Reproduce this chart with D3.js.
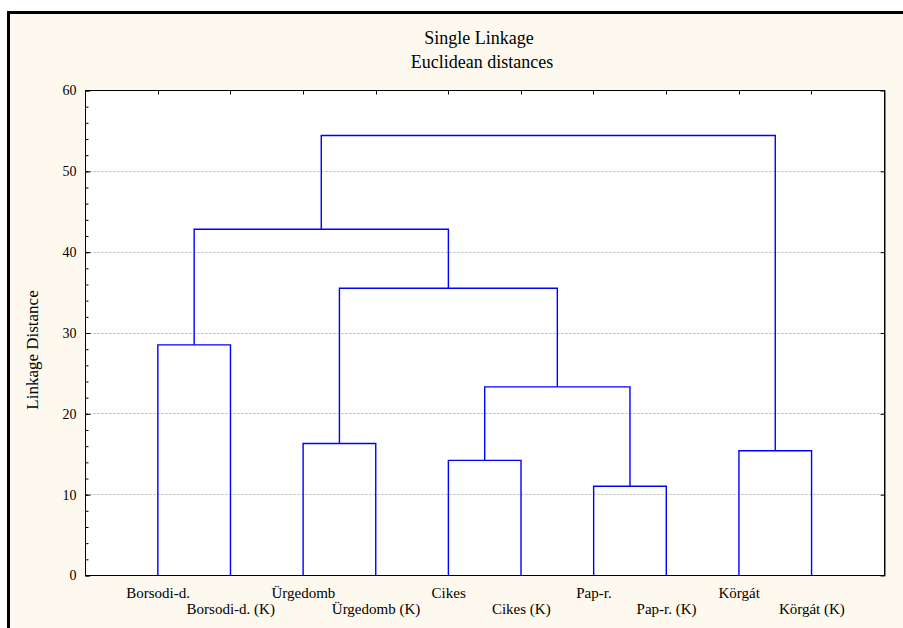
<!DOCTYPE html>
<html>
<head>
<meta charset="utf-8">
<script src="https://cdn.jsdelivr.net/npm/d3@7"></script>
<style>
body { margin: 0; background: #fff; }
text { font-family: "Liberation Serif", "Times New Roman", serif; fill: #000; }
</style>
</head>
<body>
<div class="chart"></div>
<script>
// leaves, left to right
var leaves = ["Borsodi-d.", "Borsodi-d. (K)", "Ürgedomb", "Ürgedomb (K)", "Cikes",
    "Cikes (K)", "Pap-r.", "Pap-r. (K)", "Körgát", "Körgát (K)"];

// merges: index < 10 is a leaf, index >= 10 is an earlier merge
var mergeLeft = [0, 2, 4, 6, 12, 11, 10, 8, 16];
var mergeRight = [1, 3, 5, 7, 13, 14, 15, 9, 17];
var mergeDist = [28.5, 16.3, 14.2, 11.0, 23.3, 35.5, 42.8, 15.4, 54.4];

var yTicks = [0, 10, 20, 30, 40, 50, 60];
var yMinor = d3.range(0, 61, 2);

var margin = { top: 90, right: 18, bottom: 53, left: 86 },
    width = 903 - margin.left - margin.right,
    height = 628 - margin.top - margin.bottom;

var svg = d3.select(".chart")
    .append("svg")
    .attr("width", 903)
    .attr("height", 628);

// outer frame
svg.append("rect")
    .attr("x", 8.5).attr("y", 12.5)
    .attr("width", 1000).attr("height", 1000)
    .style("fill", "#fef9ee")
    .style("stroke", "#000")
    .style("stroke-width", 3);

svg.append("text")
    .attr("x", 479).attr("y", 44)
    .attr("text-anchor", "middle")
    .style("font-size", "18px")
    .text("Single Linkage");

svg.append("text")
    .attr("x", 482).attr("y", 68)
    .attr("text-anchor", "middle")
    .style("font-size", "18px")
    .text("Euclidean distances");

var g = svg.append("g")
    .attr("transform", "translate(" + (margin.left - 0.5) + "," + (margin.top + 0.5) + ")");

var x = d3.scalePoint()
    .domain(leaves)
    .range([0, width])
    .padding(1);

var y = d3.scaleLinear()
    .domain([0, 60])
    .range([height, 0]);

g.append("rect")
    .attr("width", width).attr("height", height)
    .style("fill", "#fff");

// gridlines
g.selectAll(".grid")
    .data(yTicks.slice(1, -1))
    .enter().append("line")
    .attr("class", "grid")
    .attr("x1", 0).attr("x2", width)
    .attr("y1", function (d) { return Math.round(y(d)); })
    .attr("y2", function (d) { return Math.round(y(d)); })
    .style("stroke", "#b4b4b4")
    .style("stroke-dasharray", "2,2");

// left axis with minor ticks, drawn inward
var leftAxis = g.append("g");
leftAxis.append("g").call(d3.axisRight(y).tickValues(yMinor).tickSize(3).tickFormat(""));
leftAxis.append("g").call(d3.axisRight(y).tickValues(yTicks).tickSize(5).tickFormat(""));
leftAxis.selectAll(".domain").remove();

g.selectAll(".ylab")
    .data(yTicks)
    .enter().append("text")
    .attr("class", "ylab")
    .attr("x", -9)
    .attr("y", function (d) { return y(d); })
    .attr("dy", "0.35em")
    .attr("text-anchor", "end")
    .style("font-size", "14px")
    .text(function (d) { return d; });

// right axis ticks
var rightAxis = g.append("g").attr("transform", "translate(" + width + ",0)");
rightAxis.call(d3.axisLeft(y).tickValues(yTicks).tickSize(4).tickFormat(""));
rightAxis.selectAll(".domain").remove();

// top axis ticks
var topAxis = g.append("g");
topAxis.call(d3.axisBottom(x).tickSize(4).tickFormat(""));
topAxis.selectAll(".domain").remove();
topAxis.selectAll(".tick").attr("transform", function (d) {
    return "translate(" + Math.round(x(d)) + ",0)";
});

// plot border
g.append("rect")
    .attr("width", width).attr("height", height)
    .style("fill", "none")
    .style("stroke", "#000");
g.append("line")
    .attr("x1", width + 1).attr("x2", width + 1)
    .attr("y1", 0).attr("y2", height + 1)
    .style("stroke", "#888");

// x labels, alternating rows
g.selectAll(".xlab")
    .data(leaves)
    .enter().append("text")
    .attr("class", "xlab")
    .attr("x", function (d) { return x(d); })
    .attr("y", function (d, i) { return height + (i % 2 === 0 ? 22 : 38); })
    .attr("text-anchor", "middle")
    .style("font-size", "15px")
    .text(function (d) { return d; });

svg.append("text")
    .attr("transform", "translate(38,350) rotate(-90)")
    .attr("text-anchor", "middle")
    .style("font-size", "17px")
    .text("Linkage Distance");

// dendrogram
var n = leaves.length;
function nodeX(i) {
    if (i < n) return x(leaves[i]);
    return (nodeX(mergeLeft[i - n]) + nodeX(mergeRight[i - n])) / 2;
}
function nodeH(i) {
    return i < n ? 0 : mergeDist[i - n];
}

var links = g.append("g").attr("transform", "translate(-0.3,-0.3)");
links.selectAll(".link")
    .data(mergeDist)
    .enter().append("path")
    .attr("class", "link")
    .attr("d", function (d, i) {
        var a = mergeLeft[i], b = mergeRight[i];
        return "M" + nodeX(a) + "," + y(nodeH(a)) +
            "V" + y(d) + "H" + nodeX(b) + "V" + y(nodeH(b));
    })
    .style("fill", "none")
    .style("stroke", "#0000ff")
    .style("stroke-width", 1.4);
</script>
</body>
</html>
